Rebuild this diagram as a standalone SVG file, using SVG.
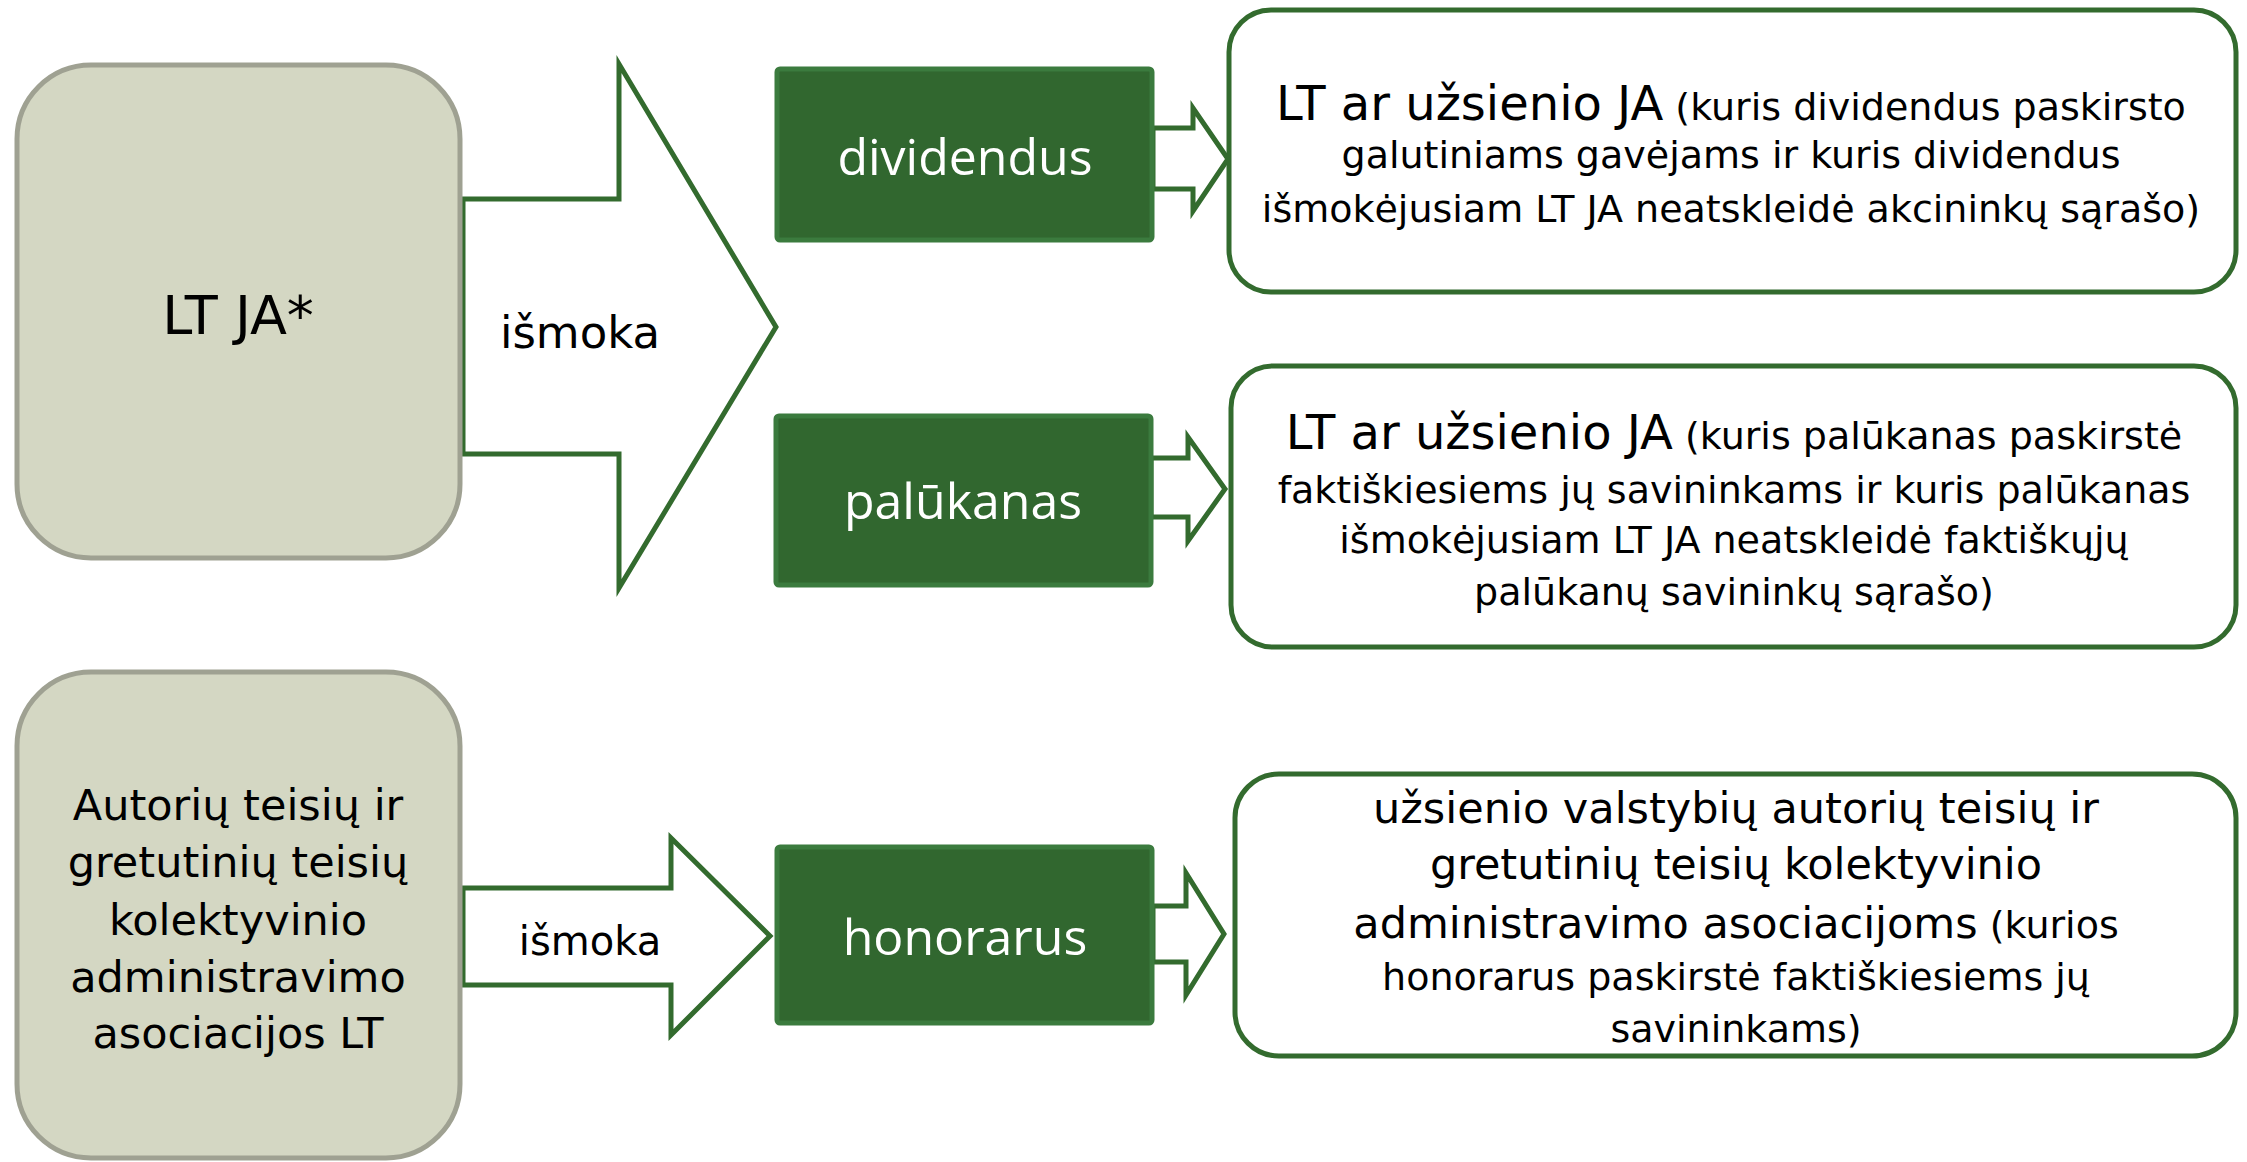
<svg xmlns="http://www.w3.org/2000/svg" width="2247" height="1162" viewBox="0 0 2247 1162">
<style>
.src{fill:#d4d7c3;stroke:#9fa192;stroke-width:5}
.pay{fill:#31672f;stroke:#3b7b3e;stroke-width:5}
.dst{fill:#ffffff;stroke:#336b2e;stroke-width:5}
.arr{fill:#ffffff;stroke:#336b2e;stroke-width:5;stroke-linejoin:miter}
.t{font-family:"DejaVu Sans",Verdana,sans-serif;fill:#000;text-anchor:middle}
.w{font-family:"Open Sans","Noto Sans",sans-serif;fill:#fff;text-anchor:middle;font-size:50px}
</style>
<rect width="2247" height="1162" fill="#ffffff"/>
<g id="connectors">
<polygon class="arr" points="463,199 619,199 619,64 776,327 619,588 619,454 463,454"/>
<polygon class="arr" points="463,888 671,888 671,838 770,936 671,1035 671,985 463,985"/>
<polygon class="arr" points="1153,128 1193,128 1193,108 1228,159 1193,211 1193,189 1153,189"/>
<polygon class="arr" points="1151,458 1188,458 1188,437 1225,489 1188,541 1188,517 1151,517"/>
<polygon class="arr" points="1153,906 1186,906 1186,873 1224,934 1186,995 1186,962 1153,962"/>
</g>
<g id="node-ltja">
<rect class="src" x="17" y="65" width="443" height="493" rx="74"/>
<text class="t" x="238" y="334" font-size="54">LT JA*</text>
</g>
<g id="node-asoc">
<rect class="src" x="17" y="672" width="443" height="486" rx="74"/>
<text class="t" font-size="43"><tspan x="238" y="820">Autorių teisių ir</tspan><tspan x="238" y="877">gretutinių teisių</tspan><tspan x="238" y="935">kolektyvinio</tspan><tspan x="238" y="992">administravimo</tspan><tspan x="238" y="1048">asociacijos LT</tspan></text>
</g>
<g id="label-ismoka1"><text class="t" x="580" y="348" font-size="45">išmoka</text></g>
<g id="label-ismoka2"><text class="t" x="590" y="955" font-size="40">išmoka</text></g>
<g id="node-dividendus">
<rect class="pay" x="777" y="69" width="375" height="171" rx="3"/>
<text class="w" x="965" y="175">dividendus</text>
</g>
<g id="node-palukanas">
<rect class="pay" x="776" y="416" width="375" height="169" rx="3"/>
<text class="w" x="963" y="519">palūkanas</text>
</g>
<g id="node-honorarus">
<rect class="pay" x="777" y="847" width="375" height="176" rx="3"/>
<text class="w" x="965" y="955">honorarus</text>
</g>
<g id="node-ja1">
<rect class="dst" x="1229" y="10" width="1007" height="282" rx="42"/>
<text class="t" x="1731" y="120"><tspan font-size="48">LT ar užsienio JA</tspan><tspan font-size="38"> (kuris dividendus paskirsto</tspan></text>
<text class="t" font-size="38"><tspan x="1731" y="168">galutiniams gavėjams ir kuris dividendus</tspan><tspan x="1731" y="222">išmokėjusiam LT JA neatskleidė akcininkų sąrašo)</tspan></text>
</g>
<g id="node-ja2">
<rect class="dst" x="1231" y="366" width="1005" height="281" rx="42"/>
<text class="t" x="1734" y="449"><tspan font-size="48">LT ar užsienio JA</tspan><tspan font-size="38"> (kuris palūkanas paskirstė</tspan></text>
<text class="t" font-size="38"><tspan x="1734" y="503">faktiškiesiems jų savininkams ir kuris palūkanas</tspan><tspan x="1734" y="553">išmokėjusiam LT JA neatskleidė faktiškųjų</tspan><tspan x="1734" y="605">palūkanų savininkų sąrašo)</tspan></text>
</g>
<g id="node-asoc-foreign">
<rect class="dst" x="1235" y="774" width="1001" height="282" rx="44"/>
<text class="t" font-size="43"><tspan x="1736" y="823">užsienio valstybių autorių teisių ir</tspan><tspan x="1736" y="879">gretutinių teisių kolektyvinio</tspan></text>
<text class="t" x="1736" y="938"><tspan font-size="43">administravimo asociacijoms</tspan><tspan font-size="38"> (kurios</tspan></text>
<text class="t" font-size="38"><tspan x="1736" y="990">honorarus paskirstė faktiškiesiems jų</tspan><tspan x="1736" y="1042">savininkams)</tspan></text>
</g>
</svg>
